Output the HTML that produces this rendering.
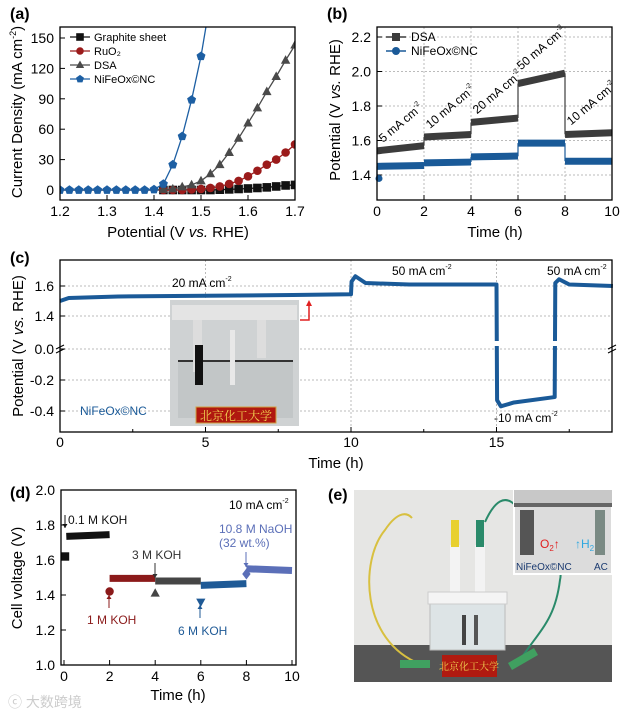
<!DOCTYPE html>
<html><head><meta charset="utf-8"><style>
html,body{margin:0;padding:0;background:#fff;}
svg{display:block;font-family:"Liberation Sans","Noto Sans CJK SC",sans-serif;}
</style></head><body>
<svg id="fig" width="629" height="715" viewBox="0 0 629 715" xmlns="http://www.w3.org/2000/svg">
<rect width="629" height="715" fill="#fff"/>
<!-- panel labels -->
<text x="10" y="19" font-size="16" font-weight="bold">(a)</text>
<text x="327" y="19" font-size="16" font-weight="bold">(b)</text>
<text x="10" y="263" font-size="16" font-weight="bold">(c)</text>
<text x="10" y="498" font-size="16" font-weight="bold">(d)</text>
<text x="328" y="500" font-size="16" font-weight="bold">(e)</text>

<!-- axis titles -->
<text x="178" y="237" font-size="15" text-anchor="middle">Potential (V <tspan font-style="italic">vs.</tspan> RHE)</text>
<text transform="translate(22,112) rotate(-90)" font-size="15" text-anchor="middle">Current Density (mA cm<tspan font-size="9" dy="-6">-2</tspan><tspan dy="6">)</tspan></text>
<text x="495" y="237" font-size="15" text-anchor="middle">Time (h)</text>
<text transform="translate(340,110) rotate(-90)" font-size="15" text-anchor="middle">Potential (V <tspan font-style="italic">vs.</tspan> RHE)</text>
<text x="336" y="468" font-size="15" text-anchor="middle">Time (h)</text>
<text transform="translate(23,346) rotate(-90)" font-size="15" text-anchor="middle">Potential (V <tspan font-style="italic">vs.</tspan> RHE)</text>
<text x="178" y="700" font-size="15" text-anchor="middle">Time (h)</text>
<text transform="translate(22,578) rotate(-90)" font-size="15" text-anchor="middle">Cell voltage (V)</text>

<g id="ga"></g>
<g id="gb"></g>
<g id="gc"></g>
<g id="gd"></g>

<!-- panel e photo -->
<g>
<rect x="354" y="490" width="258" height="192" fill="#e6e6e4"/>
<rect x="354" y="645" width="258" height="37" fill="#555"/>
<path d="M420,664 C360,640 360,560 385,530 C395,515 405,510 412,518" fill="none" stroke="#d8c040" stroke-width="2"/>
<path d="M485,522 C495,500 505,495 515,505 C540,540 565,560 560,580 C555,620 540,630 520,660" fill="none" stroke="#2a8a6a" stroke-width="2"/>
<rect x="450" y="545" width="10" height="50" fill="#f3f3f3"/>
<rect x="475" y="545" width="10" height="50" fill="#f3f3f3"/>
<rect x="451" y="520" width="8" height="27" fill="#e8d030"/>
<rect x="476" y="520" width="8" height="27" fill="#2a8a6a"/>
<rect x="430" y="602" width="75" height="48" fill="#dde4e6" stroke="#bbb"/>
<rect x="428" y="592" width="79" height="12" fill="#f4f4f4" stroke="#ccc"/>
<rect x="462" y="615" width="4" height="30" fill="#444"/>
<rect x="474" y="615" width="4" height="30" fill="#555"/>
<rect x="442" y="655" width="55" height="22" fill="#b01a10"/>
<text x="469" y="670" font-size="10" fill="#f0d050" text-anchor="middle" font-family="Noto Serif CJK SC, serif">北京化工大学</text>
<rect x="400" y="660" width="30" height="8" fill="#40a060"/>
<rect x="508" y="655" width="30" height="8" fill="#40a060" transform="rotate(-30 523 659)"/>
<rect x="514" y="490" width="98" height="84" fill="#dcdcdc" stroke="#fff" stroke-width="2"/>
<rect x="514" y="490" width="98" height="14" fill="#c8c8c8"/>
<rect x="514" y="503" width="98" height="4" fill="#666"/>
<rect x="520" y="510" width="14" height="45" fill="#555"/>
<rect x="595" y="510" width="10" height="45" fill="#7a8a84"/>
<text x="540" y="548" font-size="12" fill="#e02020">O<tspan font-size="8" dy="3">2</tspan><tspan dy="-3">↑</tspan></text>
<text x="575" y="548" font-size="12" fill="#30a8e0">↑H<tspan font-size="8" dy="3">2</tspan></text>
<text x="516" y="570" font-size="10" fill="#1a3a70">NiFeOx©NC</text>
<text x="594" y="570" font-size="10" fill="#1a3a70">AC</text>
</g>
<text x="8" y="707" font-size="14" fill="#ccc">ⓒ 大数跨境</text>
</svg>
<script>
// ---------- Panel (a) data ----------
const aPot = [1.20,1.22,1.24,1.26,1.28,1.30,1.32,1.34,1.36,1.38,1.40,1.42,1.44,1.46,1.48,1.50,1.52,1.54,1.56,1.58,1.60,1.62,1.64,1.66,1.68,1.70];
const aGraphite = [0,0,0,0,0,0,0,0,0,0,0,0,0,0,0,0,0,0.3,0.6,1,1.5,2,2.6,3.5,4.5,5];
const aRuO2 = [0,0,0,0,0,0,0,0,0,0,0,0,0,0,0.5,1,2,3.5,6,9,13.5,19,25,30,37,45];
const aDSA = [0,0,0,0,0,0,0,0,0,0,0,0.5,1,3,5,9,16,25,37,51,66,81,97,112,128,143];
const aNiFePot = [1.20,1.22,1.24,1.26,1.28,1.30,1.32,1.34,1.36,1.38,1.40,1.42,1.44,1.46,1.48,1.50];
const aNiFe = [0,0,0,0,0,0,0,0,0,0,0.5,6,25,53,89,132];
const aXTicks = ["1.2","1.3","1.4","1.5","1.6","1.7"];
const aYTicks = ["0","30","60","90","120","150"];
// ---------- Panel (b) data ----------
const bStartT = [0,2,4,6,8];
const bEndT = [2,4,6,8,10];
const bDSAStart = [1.54,1.62,1.705,1.93,1.635];
const bDSAEnd = [1.57,1.635,1.73,1.99,1.645];
const bNiFeStart = [1.45,1.47,1.505,1.585,1.48];
const bNiFeEnd = [1.455,1.475,1.51,1.585,1.48];
const bNiFeFirst = [1.38];
const bXTicks = ["0","2","4","6","8","10"];
const bYTicks = ["1.4","1.6","1.8","2.0","2.2"];
const bLabels = ["5 mA cm","10 mA cm","20 mA cm","50 mA cm","10 mA cm"];
// ---------- Panel (c) data ----------
const cTime = [0,0.3,2,5,8,10,10.02,10.15,10.5,12,15,15.02,15.15,15.6,17,17.02,17.15,17.5,19];
const cVolt = [1.50,1.52,1.53,1.535,1.54,1.545,1.63,1.665,1.62,1.61,1.61,-0.33,-0.37,-0.345,-0.31,1.62,1.645,1.61,1.60];
const cXTicks = ["0","5","10","15"];
const cYTicks = ["1.6","1.4","0.0","-0.2","-0.4"];
// ---------- Panel (d) data ----------
const dStartT = [0.1,2,4,6,8];
const dEndT = [2,4,6,8,10];
const dStartV = [1.735,1.495,1.48,1.455,1.55];
const dEndV = [1.745,1.495,1.48,1.465,1.54];
const dFirstT = [0,2,4,6,8];
const dFirstV = [1.62,1.42,1.41,1.36,1.52];
const dXTicks = ["0","2","4","6","8","10"];
const dYTicks = ["1.0","1.2","1.4","1.6","1.8","2.0"];

const NS = "http://www.w3.org/2000/svg";
function mk(tag, attrs, parent){const e=document.createElementNS(NS,tag);for(const k in attrs)e.setAttribute(k,attrs[k]);parent.appendChild(e);return e;}
function txt(s, attrs, parent){const e=mk('text',attrs,parent);e.textContent=s;return e;}

// axis functions
const ax = v => 60 + (v-1.2)/0.5*235;
const ay = v => 190 - v*152/150;
const bx = t => 377 + t*23.5;
const by = v => 175 - (v-1.4)*172.5;
const cx = t => 60 + t*29.1;
const cy = v => v > 1.0 ? 316 - (v-1.4)*150 : 349 - v*155;
const dx = t => 64 + t*22.8;
const dy = v => 490 + (2.0-v)*175;

// ===== Panel a =====
const ga = document.getElementById('ga');
mk('clipPath',{id:'clipA'},ga).appendChild(Object.assign(document.createElementNS(NS,'rect'),{}));
document.querySelector('#clipA rect').setAttribute('x',60);
document.querySelector('#clipA rect').setAttribute('y',27);
document.querySelector('#clipA rect').setAttribute('width',235);
document.querySelector('#clipA rect').setAttribute('height',173);
aXTicks.forEach((s,i)=>{const v=parseFloat(s);const x=ax(v);
  const tk=mk('line',{x1:x,y1:200,x2:x,y2:195,stroke:'#000'},ga);
  
  
  const t=txt(s,{x:x,y:216,'font-size':14,'text-anchor':'middle'},ga);
  
  });
aYTicks.forEach((s,i)=>{const v=parseFloat(s);const y=ay(v);
  mk('line',{x1:60,y1:y,x2:65,y2:y,stroke:'#000'},ga);
  const t=txt(s,{x:54,y:y+5,'font-size':14,'text-anchor':'end'},ga);
  
  });
const aSeries=[[aPot,aGraphite,'#111','sq','Graphite sheet'],[aPot,aRuO2,'#9b1b1b','ci','RuO₂'],[aPot,aDSA,'#4a4a4a','tr','DSA'],[aNiFePot,aNiFe,'#1d5fa3','pe','NiFeOx©NC']];
function marker(shape,x,y,c,r,g){
  if(shape==='sq') return mk('rect',{x:x-r,y:y-r,width:2*r,height:2*r,fill:c},g);
  if(shape==='ci') return mk('circle',{cx:x,cy:y,r:r,fill:c},g);
  if(shape==='tr') return mk('path',{d:`M${x},${y-r*1.2}L${x+r*1.1},${y+r*0.8}L${x-r*1.1},${y+r*0.8}Z`,fill:c},g);
  if(shape==='td') return mk('path',{d:`M${x},${y+r*1.2}L${x+r*1.1},${y-r*0.8}L${x-r*1.1},${y-r*0.8}Z`,fill:c},g);
  if(shape==='di') return mk('path',{d:`M${x},${y-r*1.3}L${x+r},${y}L${x},${y+r*1.3}L${x-r},${y}Z`,fill:c},g);
  let p='';for(let k=0;k<5;k++){const an=-Math.PI/2+k*2*Math.PI/5;p+=(k?'L':'M')+(x+r*1.1*Math.cos(an))+','+(y+r*1.1*Math.sin(an));}
  return mk('path',{d:p+'Z',fill:c},g);
}
const ca = mk('g',{'clip-path':'url(#clipA)'},ga);
aSeries.forEach((s,si)=>{
  const [xs,ys,c,shape]=s;
  let pts=xs.map((v,i)=>ax(v)+','+ay(ys[i]));
  if(si===3) pts.push(ax(1.512)+','+ay(165));
  const l=mk('polyline',{points:pts.join(' '),fill:'none',stroke:c,'stroke-width':1.3},ca);
  
  
  xs.forEach((v,i)=>{if(si<3 && v<1.42) return; const m=marker(shape,ax(v),ay(ys[i]),c,4.3,ca);
    
    });
});
mk('rect',{x:60,y:27,width:235,height:173,fill:'none',stroke:'#000','stroke-width':1.3},ga);
aSeries.forEach((s,i)=>{const y=37+i*14;
  mk('line',{x1:70,y1:y,x2:90,y2:y,stroke:s[2],'stroke-width':1.3},ga);
  marker(s[3],80,y,s[2],3.8,ga);
  const t=txt(s[4],{x:94,y:y+4,'font-size':11},ga);
  
  });

// ===== Panel b =====
const gb=document.getElementById('gb');
bXTicks.forEach(s=>{const x=bx(parseFloat(s));
  if(s!=='0'&&s!=='10') mk('line',{x1:x,y1:27,x2:x,y2:200,stroke:'#bbb','stroke-dasharray':'2,2'},gb);
  mk('line',{x1:x,y1:200,x2:x,y2:195,stroke:'#000'},gb);
  const t=txt(s,{x:x,y:216,'font-size':14,'text-anchor':'middle'},gb);
  
  });
bYTicks.forEach(s=>{const y=by(parseFloat(s));
  mk('line',{x1:377,y1:y,x2:612,y2:y,stroke:'#bbb','stroke-dasharray':'2,2'},gb);
  mk('line',{x1:377,y1:y,x2:382,y2:y,stroke:'#000'},gb);
  const t=txt(s,{x:371,y:y+5,'font-size':14,'text-anchor':'end'},gb);
  
  });
function stepSeries(st,en,sv,ev,c,name,g,X,Y,w){
  for(let i=0;i<st.length;i++){
    if(i>0) mk('line',{x1:X(st[i]),y1:Y(ev[i-1]),x2:X(st[i]),y2:Y(sv[i]),stroke:c,'stroke-width':1.2},g);
    const l=mk('line',{x1:X(st[i]),y1:Y(sv[i]),x2:X(en[i]),y2:Y(ev[i]),stroke:c,'stroke-width':w},g);
    
    
  }
}
stepSeries(bStartT,bEndT,bDSAStart,bDSAEnd,'#3c3c3c','b-dsa-segment',gb,bx,by,7);
stepSeries(bStartT,bEndT,bNiFeStart,bNiFeEnd,'#1a5a98','b-nife-segment',gb,bx,by,7);
mk('line',{x1:bx(0),y1:by(bNiFeFirst[0]),x2:bx(0),y2:by(bNiFeStart[0]),stroke:'#1a5a98','stroke-width':1.2},gb);
mk('circle',{cx:bx(0)+2,cy:by(bNiFeFirst[0]),r:3.5,fill:'#1a5a98'},gb);
mk('rect',{x:377,y:27,width:235,height:173,fill:'none',stroke:'#000','stroke-width':1.3},gb);
bLabels.forEach((s,i)=>{const x=bx(bStartT[i])+(i==3?3:6);const y=by(bDSAEnd[i])-6 - (i==4?0:0);
  const t=txt('',{transform:`translate(${x},${i==3?by(1.96)-8:(i==4?by(1.64)-8:by(bDSAStart[i])-8)}) rotate(-40)`,'font-size':12},gb);
  t.innerHTML=s+'<tspan font-size="7" dy="-6">-2</tspan>';
  
  });
[['DSA','#3c3c3c','sq'],['NiFeOx©NC','#1a5a98','ci']].forEach((s,i)=>{const y=37+i*14;
  mk('line',{x1:386,y1:y,x2:406,y2:y,stroke:s[1],'stroke-width':1.5},gb);
  marker(s[2],396,y,s[1],4,gb);
  const t=txt(s[0],{x:411,y:y+4,'font-size':12},gb);
  
  });

// ===== Panel c =====
const gc=document.getElementById('gc');
cXTicks.forEach(s=>{const x=cx(parseFloat(s));
  if(s!=='0') mk('line',{x1:x,y1:260,x2:x,y2:432,stroke:'#bbb','stroke-dasharray':'2,2'},gc);
  mk('line',{x1:x,y1:432,x2:x,y2:427,stroke:'#000'},gc);
  const t=txt(s,{x:x,y:447,'font-size':14,'text-anchor':'middle'},gc);
  
  });
[2.5,7.5,12.5,17.5].forEach(v=>mk('line',{x1:cx(v),y1:432,x2:cx(v),y2:429,stroke:'#000'},gc));
cYTicks.forEach(s=>{const y=cy(parseFloat(s));
  mk('line',{x1:60,y1:y,x2:612,y2:y,stroke:'#bbb','stroke-dasharray':'2,2'},gc);
  mk('line',{x1:60,y1:y,x2:65,y2:y,stroke:'#000'},gc);
  const t=txt(s,{x:54,y:y+5,'font-size':14,'text-anchor':'end'},gc);
  
  });
const cl=mk('polyline',{points:cTime.map((t,i)=>cx(t)+','+cy(cVolt[i])).join(' '),fill:'none',stroke:'#1a5a98','stroke-width':4,'stroke-linejoin':'round'},gc);


mk('rect',{x:cx(15)-5,y:341,width:10,height:5,fill:'#fff'},gc);
mk('rect',{x:cx(17)-5,y:341,width:10,height:5,fill:'#fff'},gc);
mk('rect',{x:60,y:260,width:552,height:172,fill:'none',stroke:'#000','stroke-width':1.3},gc);
mk('path',{d:'M56,349 l8,-4 M56,353 l8,-4',stroke:'#000'},gc);
mk('path',{d:'M608,349 l8,-4 M608,353 l8,-4',stroke:'#000'},gc);
[['20 mA cm',172,287],['50 mA cm',392,275],['50 mA cm',547,275],['-10 mA cm',494,422]].forEach(a=>{
  const t=txt('',{x:a[1],y:a[2],'font-size':12},gc);t.innerHTML=a[0]+'<tspan font-size="7" dy="-6">-2</tspan>';
  
  });
const cn=txt('NiFeOx©NC',{x:80,y:415,'font-size':12,fill:'#1a5a98'},gc);


// inset photo
const ph=mk('g',{},gc);


mk('rect',{x:170,y:300,width:129,height:126,fill:'#cfd2d3'},ph);
mk('rect',{x:172,y:305,width:125,height:15,fill:'#e4e4e4'},ph);
mk('rect',{x:178,y:360,width:115,height:58,fill:'#c2c6c7'},ph);
mk('line',{x1:178,y1:361,x2:293,y2:361,stroke:'#333','stroke-width':2},ph);
mk('rect',{x:193,y:320,width:9,height:52,fill:'#ddd'},ph);
mk('rect',{x:195,y:345,width:8,height:40,fill:'#111'},ph);
mk('rect',{x:257,y:320,width:9,height:38,fill:'#ddd'},ph);
mk('rect',{x:230,y:330,width:5,height:55,fill:'#e8e8e8'},ph);
mk('rect',{x:196,y:407,width:80,height:16,fill:'#b0180f',stroke:'#d0a040'},ph);
const pt=txt('北京化工大学',{x:236,y:420,'font-size':12,fill:'#f0d050','text-anchor':'middle','font-family':'Noto Serif CJK SC, serif'},ph);


mk('path',{d:'M300,320 H309 V305',fill:'none',stroke:'#e02020','stroke-width':1.5},gc);
mk('path',{d:'M306,306 L309,300 L312,306Z',fill:'#e02020'},gc);

// ===== Panel d =====
const gd=document.getElementById('gd');
dXTicks.forEach(s=>{const x=dx(parseFloat(s));
  mk('line',{x1:x,y1:665,x2:x,y2:660,stroke:'#000'},gd);
  const t=txt(s,{x:x,y:681,'font-size':14,'text-anchor':'middle'},gd);
  
  });
dYTicks.forEach(s=>{const y=dy(parseFloat(s));
  mk('line',{x1:61,y1:y,x2:66,y2:y,stroke:'#000'},gd);
  const t=txt(s,{x:55,y:y+5,'font-size':14,'text-anchor':'end'},gd);
  
  });
const dCol=['#111','#8b1a1a','#454545','#1f5a96','#5b6fb8'];
const dShape=['sq','ci','tr','td','di'];
for(let i=0;i<dStartT.length;i++){
  const l=mk('line',{x1:dx(dStartT[i]),y1:dy(dStartV[i]),x2:dx(dEndT[i]),y2:dy(dEndV[i]),stroke:dCol[i],'stroke-width':7},gd);
  
  
  const m=marker(dShape[i],dx(dFirstT[i])+(i==0?1:0),dy(dFirstV[i]),dCol[i],4.2,gd);
  
  
}
mk('rect',{x:61,y:490,width:235,height:175,fill:'none',stroke:'#000','stroke-width':1.3},gd);
function arrow(x,y1,y2,c){mk('line',{x1:x,y1:y1,x2:x,y2:y2,stroke:c},gd);const d=y2>y1?1:-1;mk('path',{d:`M${x-2.5},${y2-4*d}L${x},${y2}L${x+2.5},${y2-4*d}Z`,fill:c},gd);}
arrow(65,515,528,'#111');arrow(109,608,595,'#8b1a1a');arrow(155,563,578,'#333');arrow(200,618,605,'#1f5a96');arrow(246,552,567,'#5b6fb8');
[['0.1 M KOH',68,524,'#111'],['3 M KOH',132,559,'#333'],['1 M KOH',87,624,'#8b1a1a'],['6 M KOH',178,635,'#1f5a96'],['10.8 M NaOH',219,533,'#5b6fb8'],['(32 wt.%)',219,547,'#5b6fb8']].forEach(a=>{
  const t=txt(a[0],{x:a[1],y:a[2],'font-size':12,fill:a[3]},gd);
  
  });
const dl=txt('',{x:229,y:509,'font-size':12},gd);dl.innerHTML='10 mA cm<tspan font-size="7" dy="-6">-2</tspan>';


</script>
</body></html>
